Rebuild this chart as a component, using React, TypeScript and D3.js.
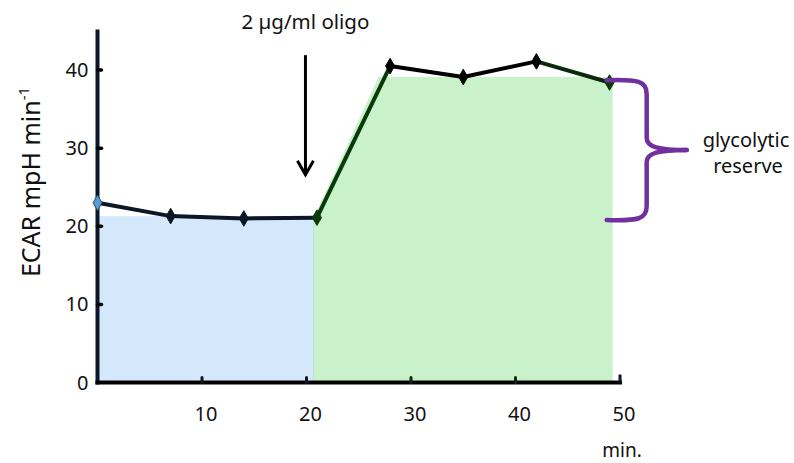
import React from "react";
import * as d3 from "d3";

const times = [0, 7, 14, 21, 28, 35, 42, 49];
const ecar = [23.0, 21.3, 21.0, 21.1, 40.5, 39.1, 41.1, 38.4];
const segmentColors = ["#0b1626", "#0b1626", "#0b1626", "#0a3a0a", "#000000", "#000000", "#0b2a0b"];
const markerColors = ["#5b9bd5", "#0b1626", "#0b1626", "#0a3a0a", "#000000", "#000000", "#000000", "#0a3a0a"];
const xTicks = [10, 20, 30, 40, 50];
const yTicks = [0, 10, 20, 30, 40];

const oligoTime = 20.7;
const endTime = 49.3;
const basalLevel = 21.3;
const maxLevel = 39.1;
const arrowTime = 19.9;
const arrowTop = 41.9;
const arrowBottom = 26.6;
const braceTop = 38.7;
const braceBottom = 20.8;

const FONT = "'Noto Sans', 'Open Sans', sans-serif";

export default function App() {
  const W = 794;
  const H = 463;
  const x = d3.scaleLinear().domain([0, 50]).range([97.5, 620]);
  const y = d3.scaleLinear().domain([0, 40]).range([382.5, 70]);

  const lineAt = (t: number) => {
    for (let i = 0; i < times.length - 1; i++) {
      if (t >= times[i] && t <= times[i + 1]) {
        const f = (t - times[i]) / (times[i + 1] - times[i]);
        return ecar[i] + f * (ecar[i + 1] - ecar[i]);
      }
    }
    return ecar[ecar.length - 1];
  };
  const timeAt = (v: number) => {
    const i = 3;
    return times[i] + ((v - ecar[i]) / (ecar[i + 1] - ecar[i])) * (times[i + 1] - times[i]);
  };

  const greenPts: [number, number][] = [
    [oligoTime, 0],
    [oligoTime, lineAt(oligoTime)],
    [timeAt(maxLevel) - 0.6, maxLevel],
    [endTime, maxLevel],
    [endTime, 0],
  ];
  const area = d3
    .line<[number, number]>()
    .x((d) => x(d[0]))
    .y((d) => y(d[1]));

  const diamond = d3.symbol().type(d3.symbolDiamond).size(70)();

  const bx0 = x(endTime) - 6;
  const bxm = bx0 + 40;
  const bxt = bx0 + 80;
  const byT = y(braceTop);
  const byB = y(braceBottom);
  const bym = (byT + byB) / 2;
  const braceTopPath = `M${bx0},${byT} C${bx0 + 32},${byT - 1} ${bxm},${byT + 1} ${bxm},${byT + 14} L${bxm},${bym - 12} C${bxm},${bym - 3} ${bxm + 12},${bym} ${bxt},${bym}`;
  const braceBotPath = `M${bx0},${byB} C${bx0 + 32},${byB + 1} ${bxm},${byB - 1} ${bxm},${byB - 14} L${bxm},${bym + 12} C${bxm},${bym + 3} ${bxm + 12},${bym} ${bxt},${bym}`;

  const ax = x(arrowTime);
  const ayT = y(arrowTop);
  const ayB = y(arrowBottom);

  return (
    <svg width={W} height={H} style={{ position: "absolute", left: 0, top: 0 }} fontFamily={FONT}>
      <rect width={W} height={H} fill="#ffffff" />
      <rect
        x={x(0)}
        y={y(basalLevel)}
        width={x(oligoTime) - x(0)}
        height={y(0) - y(basalLevel)}
        fill="#d5e8fb"
      />
      <line x1={x(oligoTime)} x2={x(oligoTime)} y1={y(basalLevel)} y2={y(0)} stroke="#a9d9dc" strokeWidth={1} />
      <path d={area(greenPts) + "Z"} fill="#c9f2cb" />

      <line x1={x(0)} x2={x(0)} y1={y(45.2)} y2={y(0) + 2} stroke="#0b1626" strokeWidth={4} />
      <line x1={x(0) - 2} x2={x(50) + 2} y1={y(0)} y2={y(0)} stroke="#000" strokeWidth={4} />
      {yTicks.filter((t) => t > 0).map((t) => (
        <line key={"yt" + t} x1={x(0)} x2={x(0) + 4} y1={y(t)} y2={y(t)} stroke="#000" strokeWidth={3.5} strokeLinecap="round" />
      ))}
      {xTicks.map((t) => (
        <line
          key={"xt" + t}
          x1={x(t)}
          x2={x(t)}
          y1={y(0)}
          y2={y(0) - (t === 50 ? 8 : 5)}
          stroke={t === 30 || t === 40 ? "#0a2a0a" : "#0b1626"}
          strokeWidth={3}
          strokeLinecap={t === 50 ? "butt" : "round"}
        />
      ))}
      {yTicks.map((t) => (
        <text key={"yl" + t} x={x(0) - 9} y={y(t) + 7} fontSize={20} textAnchor="end" fill="#111">
          {t}
        </text>
      ))}
      {xTicks.map((t) => (
        <text key={"xl" + t} x={x(t) + 4} y={421} fontSize={20} textAnchor="middle" fill="#111">
          {t}
        </text>
      ))}
      <text x={x(50) + 2} y={457} fontSize={19} textAnchor="middle" fill="#111">
        min.
      </text>
      <text transform={`translate(40,${182}) rotate(-90)`} fontSize={25} textAnchor="middle" fill="#111">
        ECAR mpH min
        <tspan fontSize={15} dy={-11}>-1</tspan>
      </text>

      {times.slice(0, -1).map((t, i) => (
        <line
          key={"seg" + i}
          x1={x(t)}
          y1={y(ecar[i])}
          x2={x(times[i + 1])}
          y2={y(ecar[i + 1])}
          stroke={segmentColors[i]}
          strokeWidth={4}
          strokeLinecap="round"
        />
      ))}
      {times.map((t, i) => (
        <path
          key={"m" + i}
          d={diamond as string}
          transform={`translate(${x(t)},${y(ecar[i])})`}
          fill={markerColors[i]}
          stroke={i === 0 ? "#2c4a6a" : markerColors[i]}
          strokeWidth={1}
        />
      ))}

      <text x={ax} y={29} fontSize={20.5} textAnchor="middle" fill="#111">
        2 µg/ml oligo
      </text>
      <line x1={ax} x2={ax} y1={ayT} y2={ayB - 2} stroke="#000" strokeWidth={3} />
      <path
        d={`M${ax - 8},${ayB - 14} L${ax},${ayB} L${ax + 8},${ayB - 14}`}
        fill="none"
        stroke="#000"
        strokeWidth={3}
      />

      <path d={braceTopPath} fill="none" stroke="#7030a0" strokeWidth={4.5} strokeLinecap="round" />
      <path d={braceBotPath} fill="none" stroke="#7030a0" strokeWidth={4.5} strokeLinecap="round" />
      <text x={746} y={147} fontSize={20} textAnchor="middle" fill="#111">
        glycolytic
      </text>
      <text x={748} y={173} fontSize={20} textAnchor="middle" fill="#111">
        reserve
      </text>
    </svg>
  );
}
